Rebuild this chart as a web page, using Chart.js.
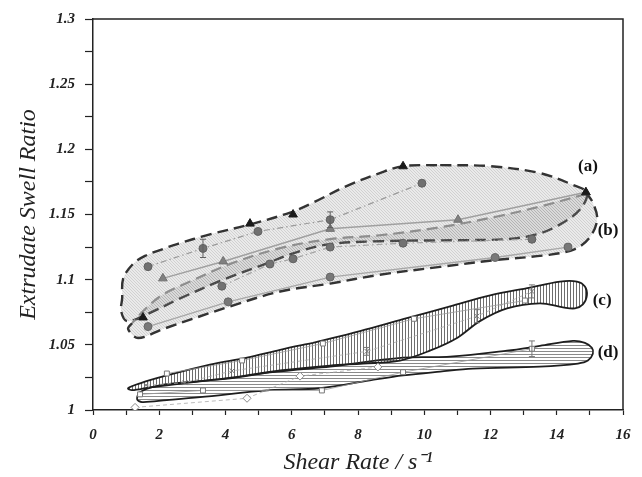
<!DOCTYPE html>
<html>
<head>
<meta charset="utf-8">
<script src="https://cdn.jsdelivr.net/npm/chart.js@4.4.1/dist/chart.umd.min.js"></script>
<style>
  html, body { margin: 0; padding: 0; background: #fff; }
</style>
</head>
<body>
<canvas id="swellChart" width="642" height="477"></canvas>
<script>
// ---- data (shear rate in 1/s, swell ratio) ----

// upper group, envelopes (a) and (b)
const s1X = [1.66, 3.32, 4.98, 7.16, 9.93];
const s1Y = [1.110, 1.124, 1.137, 1.146, 1.174];
const s1Err = [0, 0.007, 0, 0.006, 0];

const s2X = [2.11, 3.93, 7.16, 11.02, 14.88];
const s2Y = [1.101, 1.114, 1.139, 1.146, 1.167];

const s3X = [1.51, 4.74, 6.04, 9.36, 14.88];
const s3Y = [1.071, 1.143, 1.150, 1.187, 1.167];

const s4X = [3.89, 5.34, 6.04, 7.16, 9.36, 13.25];
const s4Y = [1.095, 1.112, 1.116, 1.125, 1.128, 1.131];

const s5X = [1.66, 4.08, 7.16, 12.14, 14.34];
const s5Y = [1.064, 1.083, 1.102, 1.117, 1.125];

// lower group, envelopes (c) and (d)
const c1X = [2.23, 4.5, 6.94, 9.69, 13.04];
const c1Y = [1.028, 1.038, 1.051, 1.070, 1.084];

const c2X = [1.6, 2.78, 4.2, 8.27, 11.59, 13.25];
const c2Y = [1.019, 1.021, 1.030, 1.045, 1.072, 1.091];
const c2Err = [0, 0, 0, 0.003, 0.005, 0.005];

const d1X = [1.42, 3.32, 6.91, 9.36, 13.25];
const d1Y = [1.012, 1.015, 1.015, 1.029, 1.047];
const d1Err = [0, 0, 0, 0, 0.006];

const d2X = [1.27, 4.65, 6.25, 8.6];
const d2Y = [1.002, 1.009, 1.026, 1.033];

// hand drawn envelopes, [shear rate, swell ratio]
const envA = [
  [10.48, 1.1879], [11.99, 1.1871], [13.49, 1.1818], [14.49, 1.1727], [14.91, 1.1667],
  [14.70, 1.1538], [14.10, 1.1424], [13.40, 1.1348], [12.50, 1.1311], [11.08, 1.1303],
  [8.66, 1.1295], [7.16, 1.1273], [6.16, 1.1212], [5.13, 1.1114], [3.93, 1.1000],
  [2.63, 1.0856], [1.63, 1.0735], [1.03, 1.0682], [0.85, 1.0758], [0.88, 1.0856],
  [0.91, 1.1008], [1.21, 1.1121], [1.57, 1.1182], [2.11, 1.1235], [2.54, 1.1273],
  [3.53, 1.1348], [4.74, 1.1424], [5.95, 1.1515], [6.64, 1.1591], [7.67, 1.1720],
  [8.66, 1.1818], [9.36, 1.1871], [10.48, 1.1879]
];
// (b): lower edge runs right, then the upper edge comes back left
const envBLower = [
  [1.18, 1.0667], [1.06, 1.0621], [1.36, 1.0553], [2.11, 1.0621], [4.14, 1.0795],
  [5.65, 1.0909], [7.16, 1.0970], [8.66, 1.1038], [10.48, 1.1098], [12.20, 1.1152],
  [13.71, 1.1189], [14.55, 1.1235], [15.00, 1.1326], [15.22, 1.1462], [15.09, 1.1591],
  [14.91, 1.1659]
];
const envBUpper = [
  [14.91, 1.1659], [13.49, 1.1561], [12.20, 1.1485], [10.48, 1.1402], [8.66, 1.1341],
  [7.16, 1.1311], [5.65, 1.1242], [4.14, 1.1121], [2.93, 1.0985], [2.11, 1.0886],
  [1.57, 1.0773], [1.18, 1.0667]
];
const envC = [
  [6.64, 1.0515], [8.06, 1.0606], [9.36, 1.0697], [10.78, 1.0795], [11.99, 1.0879],
  [13.19, 1.0939], [14.10, 1.0985], [14.61, 1.0985], [14.85, 1.0947], [14.91, 1.0879],
  [14.79, 1.0811], [14.55, 1.0780], [14.19, 1.0788], [13.49, 1.0818], [12.50, 1.0780],
  [11.68, 1.0682], [10.99, 1.0553], [10.17, 1.0455], [9.27, 1.0379], [8.15, 1.0356],
  [7.16, 1.0341], [5.65, 1.0303], [4.23, 1.0250], [2.72, 1.0205], [1.72, 1.0174],
  [1.18, 1.0152], [1.06, 1.0167], [1.42, 1.0205], [2.23, 1.0265], [3.53, 1.0348],
  [4.65, 1.0402], [5.65, 1.0462], [6.64, 1.0515]
];
const envD = [
  [7.16, 1.0333], [9.36, 1.0402], [10.78, 1.0409], [12.50, 1.0455], [13.49, 1.0492],
  [14.49, 1.0530], [14.85, 1.0515], [15.06, 1.0477], [15.09, 1.0432], [14.94, 1.0379],
  [14.64, 1.0356], [13.49, 1.0333], [11.47, 1.0318], [10.48, 1.0295], [9.36, 1.0265],
  [8.36, 1.0227], [6.85, 1.0167], [5.34, 1.0152], [3.23, 1.0098], [2.23, 1.0076],
  [1.48, 1.0061], [1.33, 1.0083], [1.42, 1.0136], [1.87, 1.0182], [2.78, 1.0212],
  [4.14, 1.0242], [5.34, 1.0288], [7.16, 1.0333]
];

// envelope tags and where they sit
const envLabels = ["(a)", "(b)", "(c)", "(d)"];
const envLabelX = [14.94, 15.55, 15.37, 15.55];
const envLabelY = [1.1864, 1.1379, 1.0841, 1.0439];

// ---- helpers ----
function toPoints(xs, ys) {
  return xs.map((x, i) => ({ x: x, y: ys[i] }));
}

function pairsToPoints(pairs) {
  return pairs.map(([x, y]) => ({ x: x, y: y }));
}

// small repeating hatch tile used as a fill pattern
function hatch(dir, bg, fg, gap) {
  const c = document.createElement("canvas");
  c.width = gap;
  c.height = gap;
  const g = c.getContext("2d");
  if (bg) {
    g.fillStyle = bg;
    g.fillRect(0, 0, gap, gap);
  }
  g.strokeStyle = fg;
  g.lineWidth = 1;
  g.beginPath();
  if (dir === "v") {
    g.moveTo(0.5, 0);
    g.lineTo(0.5, gap);
  } else if (dir === "h") {
    g.moveTo(0, 0.5);
    g.lineTo(gap, 0.5);
  } else {
    g.moveTo(-1, -1);
    g.lineTo(gap + 1, gap + 1);
    g.moveTo(-1, gap - 1);
    g.lineTo(1, gap + 1);
    g.moveTo(gap - 1, -1);
    g.lineTo(gap + 1, 1);
  }
  g.stroke();
  return g.createPattern(c, "repeat");
}

const tickFont = { family: "Liberation Serif", size: 15, style: "italic", weight: "bold" };
const titleFont = { family: "Liberation Serif", size: 24, style: "italic" };

// closed envelope: outline plus hatched fill
function envelope(pairs, fill, border, dash, width) {
  return {
    data: pairsToPoints(pairs),
    showLine: true,
    tension: 0.35,
    pointRadius: 0,
    borderColor: border,
    borderWidth: width,
    borderDash: dash,
    backgroundColor: fill,
    fill: "shape",
  };
}

// open outline piece, no fill
function edge(pairs, border, dash, width) {
  return {
    data: pairsToPoints(pairs),
    showLine: true,
    tension: 0.35,
    pointRadius: 0,
    borderColor: border,
    borderWidth: width,
    borderDash: dash,
    fill: false,
  };
}

function series(xs, ys, opts) {
  return Object.assign(
    {
      data: toPoints(xs, ys),
      showLine: true,
      tension: 0,
      borderWidth: 1.2,
      pointRadius: 4,
      pointBorderWidth: 1,
      fill: false,
    },
    opts
  );
}

// ---- plugins ----
const frame = {
  id: "frame",
  afterDraw(chart) {
    const { ctx, chartArea: a } = chart;
    ctx.save();
    ctx.strokeStyle = "#222";
    ctx.lineWidth = 1.5;
    ctx.beginPath();
    ctx.moveTo(a.left, a.top);
    ctx.lineTo(a.right, a.top);
    ctx.lineTo(a.right, a.bottom);
    ctx.stroke();
    ctx.restore();
  },
};

const errorBars = {
  id: "errorBars",
  afterDatasetsDraw(chart) {
    const { ctx } = chart;
    const yScale = chart.scales.y;
    chart.data.datasets.forEach((ds, i) => {
      if (!ds.errors) return;
      const meta = chart.getDatasetMeta(i);
      meta.data.forEach((pt, j) => {
        const e = ds.errors[j];
        if (!e) return;
        const v = ds.data[j].y;
        const top = yScale.getPixelForValue(v + e);
        const bot = yScale.getPixelForValue(v - e);
        ctx.save();
        ctx.strokeStyle = ds.pointBorderColor || "#555";
        ctx.lineWidth = 1;
        ctx.beginPath();
        ctx.moveTo(pt.x, top);
        ctx.lineTo(pt.x, bot);
        ctx.moveTo(pt.x - 3, top);
        ctx.lineTo(pt.x + 3, top);
        ctx.moveTo(pt.x - 3, bot);
        ctx.lineTo(pt.x + 3, bot);
        ctx.stroke();
        ctx.restore();
      });
    });
  },
};

const tags = {
  id: "tags",
  afterDraw(chart) {
    const { ctx } = chart;
    const xs = chart.scales.x;
    const ys = chart.scales.y;
    ctx.save();
    ctx.fillStyle = "#111";
    ctx.font = "bold 17px 'Liberation Serif'";
    ctx.textAlign = "center";
    ctx.textBaseline = "middle";
    envLabels.forEach((t, i) => {
      ctx.fillText(t, xs.getPixelForValue(envLabelX[i]), ys.getPixelForValue(envLabelY[i]));
    });
    ctx.restore();
  },
};

// ---- chart ----
const greyFill = hatch("d", "rgba(150,150,150,0.2)", "rgba(120,120,120,0.22)", 3);

const datasets = [
  // upper group
  series(s3X, s3Y, { showLine: false, pointStyle: "triangle", pointRadius: 5, backgroundColor: "#1a1a1a", borderColor: "#1a1a1a", pointBorderColor: "#1a1a1a" }),
  series(s1X, s1Y, { pointStyle: "circle", backgroundColor: "#707070", borderColor: "#9a9a9a", pointBorderColor: "#606060", borderDash: [6, 3, 1.5, 3], errors: s1Err }),
  series(s2X, s2Y, { pointStyle: "triangle", pointRadius: 5, backgroundColor: "#808080", borderColor: "#a0a0a0", pointBorderColor: "#707070", borderWidth: 1.5 }),
  series(s4X, s4Y, { pointStyle: "circle", backgroundColor: "#727272", borderColor: "#a4a4a4", pointBorderColor: "#606060", borderDash: [6, 3, 1.5, 3] }),
  series(s5X, s5Y, { pointStyle: "circle", backgroundColor: "#787878", borderColor: "#a8a8a8", pointBorderColor: "#666", borderWidth: 1.3 }),
  // lower group
  series(c1X, c1Y, { pointStyle: "rect", pointRadius: 3.5, backgroundColor: "#fff", borderColor: "#999", pointBorderColor: "#777", borderWidth: 0.8 }),
  series(c2X, c2Y, { pointStyle: "crossRot", pointRadius: 3.5, backgroundColor: "#777", borderColor: "#aaa", pointBorderColor: "#777", borderWidth: 0.8, borderDash: [4, 3], errors: c2Err }),
  series(d1X, d1Y, { pointStyle: "rect", pointRadius: 3.5, backgroundColor: "#fff", borderColor: "#999", pointBorderColor: "#777", borderWidth: 0.8, errors: d1Err }),
  series(d2X, d2Y, { pointStyle: "rectRot", pointRadius: 4, backgroundColor: "#fff", borderColor: "#aaa", pointBorderColor: "#888", borderWidth: 0.8, borderDash: [4, 3] }),
  // envelopes (drawn first, so listed last)
  envelope(envC, hatch("v", null, "rgba(60,60,60,0.75)", 3), "#1e1e1e", [], 1.8),
  envelope(envD, hatch("h", null, "rgba(60,60,60,0.6)", 3), "#1e1e1e", [], 1.8),
  edge(envBUpper, "#8e8e8e", [11, 6], 2.2),
  edge(envBLower, "#333", [11, 6], 2.4),
  envelope(envBLower.concat(envBUpper.slice(1)), greyFill, "rgba(0,0,0,0)", [], 0),
  envelope(envA, greyFill, "#333", [11, 6], 2.4),
];

new Chart(document.getElementById("swellChart"), {
  type: "scatter",
  data: { datasets: datasets },
  options: {
    responsive: false,
    animation: false,
    devicePixelRatio: 1,
    layout: { padding: { top: 14, right: 19, left: 0, bottom: 0 } },
    plugins: {
      legend: { display: false },
      tooltip: { enabled: false },
    },
    scales: {
      x: {
        type: "linear",
        min: 0,
        max: 16,
        ticks: {
          stepSize: 1,
          autoSkip: false,
          maxRotation: 0,
          padding: 11,
          color: "#222",
          font: tickFont,
          callback: (v) => (Math.round(v) % 2 === 0 ? String(Math.round(v)) : ""),
        },
        grid: { drawOnChartArea: false, tickLength: 5, color: "#222", tickWidth: 1.2 },
        border: { color: "#222", width: 1.5 },
        title: { display: true, text: "Shear Rate / s\u207B\u00B9", color: "#222", font: titleFont, padding: { top: 0, bottom: 0 } },
        afterFit: (s) => { s.height = 67; },
      },
      y: {
        type: "linear",
        min: 1,
        max: 1.3,
        ticks: {
          stepSize: 0.025,
          autoSkip: false,
          padding: 10,
          color: "#222",
          font: tickFont,
          callback: (v) => (Math.round(v * 40) % 2 === 0 ? String(+v.toFixed(2)) : ""),
        },
        grid: { drawOnChartArea: false, tickLength: 8, color: "#222", tickWidth: 1.2 },
        border: { color: "#222", width: 1.5 },
        title: { display: true, text: "Extrudate Swell Ratio", color: "#222", font: titleFont, padding: { top: 14, bottom: 0 } },
        afterFit: (s) => { s.width = 93; },
      },
    },
  },
  plugins: [frame, errorBars, tags],
});
</script>
</body>
</html>
